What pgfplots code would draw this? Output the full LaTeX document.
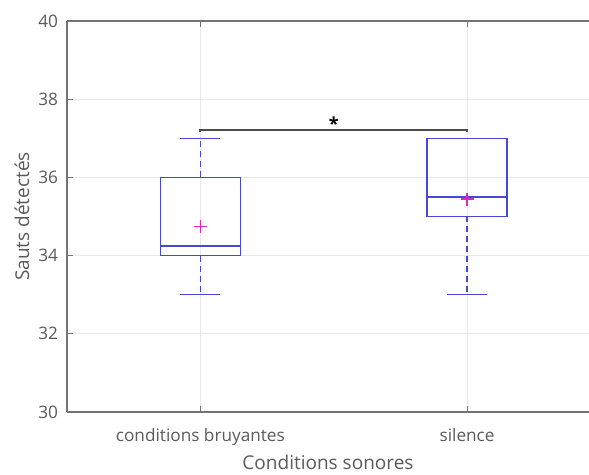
\documentclass[border=0pt]{standalone}
\usepackage{fontspec}
\setmainfont{Open Sans}
\usepackage{pgfplots}
\pgfplotsset{compat=1.18}
\usepgfplotslibrary{statistics}
\definecolor{boxblue}{RGB}{72,72,215}
\definecolor{meanmag}{RGB}{220,40,190}
\definecolor{txtgray}{RGB}{90,90,90}
\definecolor{axgray}{RGB}{115,115,115}
\begin{document}
\begin{tikzpicture}
\begin{axis}[
  name=ax,
  scale only axis,
  width=261pt, height=195.5pt,
  xmin=0.5, xmax=2.457,
  ymin=30, ymax=40,
  ytick={30,32,34,36,38,40},
  xtick={1,2},
  xticklabels={conditions bruyantes, silence},
  separate axis lines,
  axis x line*=box,
  axis y line*=left,
  axis line style={axgray, line width=0.6pt},
  tick style={axgray, line width=0.5pt},
  major tick length=3pt,
  tick align=inside,
  grid=major,
  major grid style={gray!18, line width=0.4pt},
  ticklabel style={font=\fontsize{8.6}{10}\selectfont, text=txtgray},
  xticklabel style={yshift=-4.5pt},
  yticklabel style={xshift=-1pt},
  /pgf/number format/assume math mode=true,
  xlabel={Conditions sonores},
  ylabel={Sauts détectés},
  every axis x label/.style={at={(axis description cs:0.5,-0.1279)}, anchor=center,
    font=\fontsize{9.5}{11}\selectfont, text=txtgray},
  every axis y label/.style={at={(axis description cs:-0.0862,0.5)}, anchor=center, rotate=90,
    font=\fontsize{9.5}{11}\selectfont, text=txtgray},
  boxplot/draw direction=y,
  boxplot/box extend=0.3,
  boxplot/whisker extend=0.15,
  boxplot/every box/.style={draw=boxblue, line width=0.7pt},
  boxplot/every median/.style={draw=boxblue, line width=0.7pt},
  boxplot/every whisker/.style={draw=boxblue, line width=0.7pt},
  boxplot/draw/lower whisker/.code={%
    \draw[boxblue, line width=0.7pt, dash pattern=on 3pt off 2pt]
      (boxplot box cs:\pgfplotsboxplotvalue{lower quartile},0.5)
      -- (boxplot box cs:\pgfplotsboxplotvalue{lower whisker},0.5);
    \draw[boxblue, line width=0.7pt]
      (boxplot whisker cs:\pgfplotsboxplotvalue{lower whisker},0)
      -- (boxplot whisker cs:\pgfplotsboxplotvalue{lower whisker},1);
  },
  boxplot/draw/upper whisker/.code={%
    \draw[boxblue, line width=0.7pt, dash pattern=on 3pt off 2pt]
      (boxplot box cs:\pgfplotsboxplotvalue{upper quartile},0.5)
      -- (boxplot box cs:\pgfplotsboxplotvalue{upper whisker},0.5);
    \draw[boxblue, line width=0.7pt]
      (boxplot whisker cs:\pgfplotsboxplotvalue{upper whisker},0)
      -- (boxplot whisker cs:\pgfplotsboxplotvalue{upper whisker},1);
  },
]
\addplot[boxblue, line width=0.7pt, boxplot prepared={
  draw position=1,
  lower whisker=33, lower quartile=34, median=34.25,
  upper quartile=36, upper whisker=37}] coordinates {};
\addplot[boxblue, line width=0.7pt, boxplot prepared={
  draw position=2,
  lower whisker=33, lower quartile=35, median=35.5,
  upper quartile=37, upper whisker=37}] coordinates {};
% means
\addplot[only marks, mark=+, mark size=3.2pt, meanmag, mark options={line width=0.8pt}]
  coordinates {(1,34.74) (2,35.44)};
% significance bracket
\addplot[black!70, line width=1pt, mark=none]
  coordinates {(1,37.16) (1,37.2) (2,37.2) (2,37.16)};
\node[anchor=south, inner sep=0pt, font=\fontsize{9}{9}\selectfont\bfseries, yshift=0pt] at (axis cs:1.5,37.2) {*};
\end{axis}
\pgfresetboundingbox
\path[use as bounding box] ([xshift=-33.5pt,yshift=-31.5pt]ax.south west) rectangle ([yshift=10.5pt]ax.north east);
\end{tikzpicture}
\end{document}
